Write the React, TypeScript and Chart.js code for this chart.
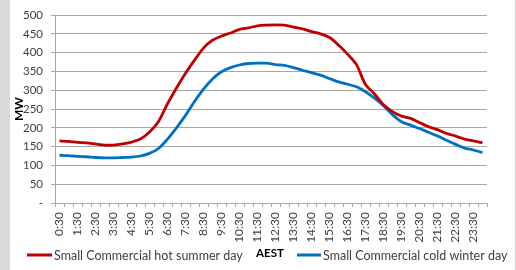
import { useEffect, useRef } from "react";
import { Chart, registerables } from "chart.js";

Chart.register(...registerables);

const times = [
  "0:30", "1:00", "1:30", "2:00", "2:30", "3:00", "3:30", "4:00",
  "4:30", "5:00", "5:30", "6:00", "6:30", "7:00", "7:30", "8:00",
  "8:30", "9:00", "9:30", "10:00", "10:30", "11:00", "11:30", "12:00",
  "12:30", "13:00", "13:30", "14:00", "14:30", "15:00", "15:30", "16:00",
  "16:30", "17:00", "17:30", "18:00", "18:30", "19:00", "19:30", "20:00",
  "20:30", "21:00", "21:30", "22:00", "22:30", "23:00", "23:30", "24:00",
];

const hotSummer = [
  165, 164, 161, 160, 157, 154, 154, 157,
  162, 170, 189, 217, 264, 306, 345, 380,
  412, 433, 444, 452, 462, 466, 471, 473,
  474, 473, 468, 463, 456, 450, 440, 420,
  396, 368, 315, 290, 261, 243, 231, 225,
  214, 203, 195, 185, 178, 170, 165, 160,
];

const coldWinter = [
  127, 126, 124, 123, 121, 120, 120, 121,
  122, 125, 132, 145, 170, 200, 233, 270,
  303, 330, 349, 360, 367, 371, 372, 372,
  368, 366, 360, 353, 347, 340, 331, 322,
  316, 309, 296, 279, 259, 235, 216, 207,
  198, 188, 178, 167, 156, 146, 141, 134,
];

const seriesNames = ["Small Commercial hot summer day", "Small Commercial cold winter day"];
const seriesColors = ["#c00000", "#0070c0"];
const xTitle = "AEST";
const yTitle = "MW";

const FONT = "Lato, 'Open Sans', sans-serif";
const TEXT = "#404040";
const GRID = "#a8a8a8";

const legendPlugin = {
  id: "excelLegend",
  afterDraw(chart: any) {
    const ctx = chart.ctx as CanvasRenderingContext2D;
    const y = 255;
    ctx.save();
    ctx.lineWidth = 3;
    ctx.textBaseline = "middle";
    ctx.textAlign = "left";
    ctx.font = `12.5px ${FONT}`;
    // first entry
    ctx.strokeStyle = seriesColors[0];
    ctx.beginPath();
    ctx.moveTo(27, y);
    ctx.lineTo(52, y);
    ctx.stroke();
    ctx.fillStyle = TEXT;
    ctx.fillText(seriesNames[0], 54, y + 1, 190);
    // axis title
    ctx.font = `bold 11.5px ${FONT}`;
    ctx.fillStyle = "#000";
    ctx.textAlign = "center";
    ctx.fillText(xTitle, 270, y - 2);
    // second entry
    ctx.strokeStyle = seriesColors[1];
    ctx.beginPath();
    ctx.moveTo(297, y);
    ctx.lineTo(321, y);
    ctx.stroke();
    ctx.font = `12.5px ${FONT}`;
    ctx.fillStyle = TEXT;
    ctx.textAlign = "left";
    ctx.fillText(seriesNames[1], 323, y + 1, 186);
    ctx.restore();
  },
};

export default function App() {
  const ref = useRef<HTMLCanvasElement>(null);

  useEffect(() => {
    const chart = new Chart(ref.current as HTMLCanvasElement, {
      type: "line",
      data: {
        labels: times,
        datasets: [
          {
            label: seriesNames[0],
            data: hotSummer,
            borderColor: seriesColors[0],
            backgroundColor: seriesColors[0],
            borderWidth: 2.8,
            pointRadius: 0,
            tension: 0.3,
          },
          {
            label: seriesNames[1],
            data: coldWinter,
            borderColor: seriesColors[1],
            backgroundColor: seriesColors[1],
            borderWidth: 2.8,
            pointRadius: 0,
            tension: 0.3,
          },
        ],
      },
      options: {
        responsive: false,
        animation: false,
        layout: { padding: { left: 10, right: 29, top: 15, bottom: 20 } },
        plugins: { legend: { display: false }, tooltip: { enabled: false } },
        scales: {
          x: {
            offset: true,
            grid: {
              display: true,
              drawOnChartArea: false,
              drawTicks: true,
              tickLength: 4,
              offset: true,
              color: GRID,
            },
            border: { color: GRID },
            ticks: {
              autoSkip: false,
              maxRotation: 90,
              minRotation: 90,
              padding: 5,
              color: TEXT,
              font: { family: FONT, size: 12 },
              callback: (_v: any, i: number) => (i % 2 === 0 ? times[i] : ""),
            },
            afterFit: (s: any) => {
              s.height = 47;
            },
          },
          y: {
            min: 0,
            max: 500,
            grid: { color: GRID, tickLength: 4 },
            border: { color: GRID },
            ticks: {
              stepSize: 50,
              padding: 8,
              color: TEXT,
              font: { family: FONT, size: 11.5 },
              callback: (v: any) => (v === 0 ? "-" : String(v)),
            },
            title: {
              display: true,
              text: yTitle,
              color: "#000",
              padding: { top: 2, bottom: 0 },
              font: { family: FONT, size: 12, weight: "bold" },
            },
            afterFit: (s: any) => {
              s.width = 45;
            },
          },
        },
      },
      plugins: [legendPlugin],
    } as any);
    return () => chart.destroy();
  }, []);

  return (
    <div
      style={{
        position: "fixed",
        left: 0,
        top: 0,
        width: 516,
        height: 270,
        background: "#fff",
        overflow: "hidden",
      }}
    >
      <div style={{ position: "absolute", left: 0, top: 0, width: 10, height: 270, background: "#d9d9d9" }} />
      <div style={{ position: "absolute", right: 0, top: 0, width: 1, height: 270, background: "#d0d0d0" }} />
      <canvas ref={ref} width={516} height={270} style={{ position: "absolute", left: 0, top: 0 }} />
    </div>
  );
}
